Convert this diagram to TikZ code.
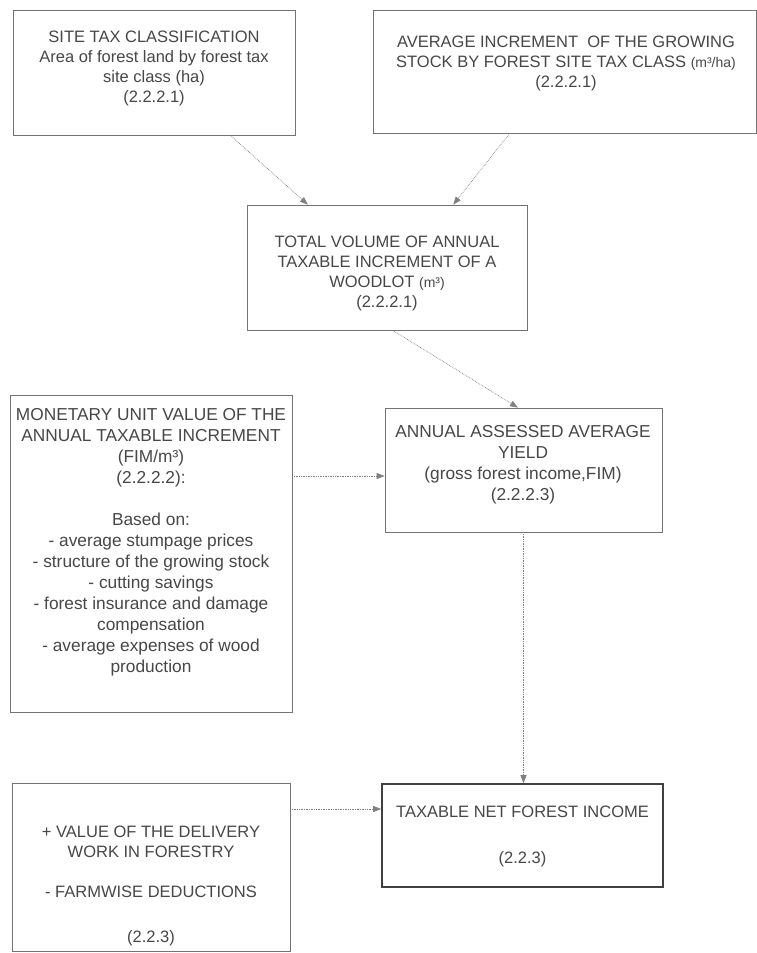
\documentclass[tikz,border=0pt]{standalone}
\usepackage{fontspec}
\setmainfont{Liberation Sans}
\usetikzlibrary{arrows.meta,calc}
\begin{document}
\begin{tikzpicture}[x=1pt,y=-1pt,
  box/.style={draw=black!55, line width=0.7pt, inner sep=0pt},
  mainbox/.style={draw=black!75, line width=1.6pt, inner sep=0pt},
  txt/.style={align=center, text=black!72, inner sep=0pt, font=\fontsize{16.5}{20}\selectfont},
  bigtxt/.style={txt, font=\fontsize{17.3}{21}\selectfont},
  conn/.style={draw=black!50, densely dotted, line width=0.7pt, -{Triangle[length=8pt,width=6pt]}}
]
\useasboundingbox[fill=white] (0,0) rectangle (757,953);
\newcommand{\smallu}[1]{{\fontsize{14}{16}\selectfont #1}}

% boxes
\node[box, minimum width=282pt, minimum height=125pt] (b1) at (154,72.5) {};
\node[box, minimum width=383pt, minimum height=123pt] (b2) at (564.5,71.5) {};
\node[box, minimum width=280pt, minimum height=125pt] (b3) at (387,267.5) {};
\node[box, minimum width=282pt, minimum height=317pt] (b4) at (151,553.5) {};
\node[box, minimum width=277pt, minimum height=124pt] (b5) at (523.5,470) {};
\node[box, minimum width=278pt, minimum height=168pt] (b6) at (151,867) {};
\node[mainbox, minimum width=281pt, minimum height=103pt] (b7) at (522.5,835.5) {};

% texts
\node[txt] (t1) at (154,68) {SITE TAX CLASSIFICATION\\Area of forest land by forest tax\\site class (ha)\\(2.2.2.1)};
\node[txt] (t2) at (566,63) {AVERAGE INCREMENT \ OF THE GROWING\\STOCK BY FOREST SITE TAX CLASS \smallu{(m³/ha)}\\(2.2.2.1)};
\node[txt] (t3) at (387,273) {TOTAL VOLUME OF ANNUAL\\TAXABLE INCREMENT OF A\\WOODLOT \smallu{(m³)}\\(2.2.2.1)};
\node[bigtxt] (t4) at (151,542) {MONETARY UNIT VALUE OF THE\\ANNUAL TAXABLE INCREMENT\\(FIM/m³)\\(2.2.2.2):\\[21pt]Based on:\\- average stumpage prices\\- structure of the growing stock\\- cutting savings\\- forest insurance and damage\\compensation\\- average expenses of wood\\production};
\node[bigtxt] (t5) at (523,465) {ANNUAL ASSESSED AVERAGE\\YIELD\\(gross forest income,FIM)\\(2.2.2.3)};
\node[txt] (t6) at (151,886) {+ VALUE OF THE DELIVERY\\WORK IN FORESTRY\\[20pt]- FARMWISE DEDUCTIONS\\[25pt](2.2.3)};
\node[txt] (t7) at (522.5,836) {TAXABLE NET FOREST INCOME\\[26pt](2.2.3)};

% connectors
\coordinate (h1) at (0,476);
\coordinate (h2) at (0,809);
\draw[conn] ($(b1.south west)!0.77!(b1.south east)$) -- ($(b3.north west)!0.218!(b3.north east)$);
\draw[conn] ($(b2.south west)!0.357!(b2.south east)$) -- ($(b3.north west)!0.736!(b3.north east)$);
\draw[conn] ($(b3.south west)!0.52!(b3.south east)$) -- ($(b5.north west)!0.48!(b5.north east)$);
\draw[conn] (b4.east |- h1) -- (b5.west |- h1);
\draw[conn] (b5.south) -- (b5.south |- b7.north);
\draw[conn] (b6.east |- h2) -- (b7.west |- h2);
\end{tikzpicture}
\end{document}
